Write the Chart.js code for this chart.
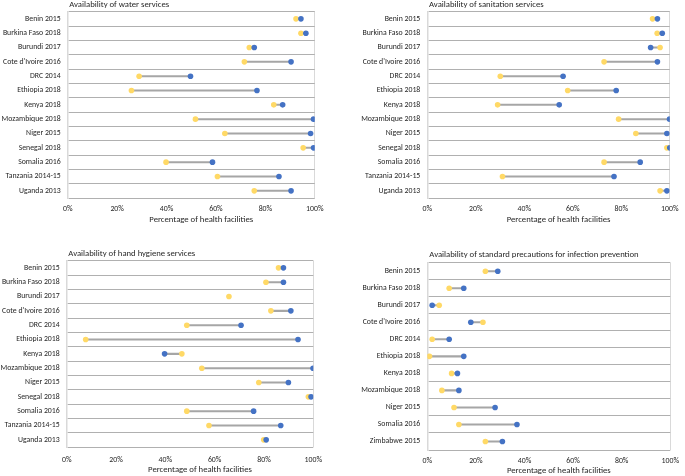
<!DOCTYPE html>
<html>
<head>
<meta charset="utf-8">
<script src="https://cdn.jsdelivr.net/npm/chart.js@4/dist/chart.umd.min.js"></script>
<style>
  html, body { margin: 0; padding: 0; background: #fff; }
  body { width: 685px; height: 476px; position: relative; overflow: hidden; }
  .panel { position: absolute; }
</style>
</head>
<body>
<div class="panel" style="left:0;top:0;width:330px;height:232px"><canvas id="c1"></canvas></div>
<div class="panel" style="left:340px;top:0;width:345px;height:232px"><canvas id="c2"></canvas></div>
<div class="panel" style="left:0;top:240px;width:330px;height:236px"><canvas id="c3"></canvas></div>
<div class="panel" style="left:340px;top:240px;width:345px;height:236px"><canvas id="c4"></canvas></div>
<script>
// ---- Data (percent of health facilities) ----
const countries13 = ["Benin 2015","Burkina Faso 2018","Burundi 2017","Cote d'Ivoire 2016","DRC 2014","Ethiopia 2018","Kenya 2018","Mozambique 2018","Niger 2015","Senegal 2018","Somalia 2016","Tanzania 2014-15","Uganda 2013"];
const countriesSP = ["Benin 2015","Burkina Faso 2018","Burundi 2017","Cote d'Ivoire 2016","DRC 2014","Ethiopia 2018","Kenya 2018","Mozambique 2018","Niger 2015","Somalia 2016","Zimbabwe 2015"];

const waterYellow = [92.4, 94.4, 73.5, 71.5, 28.9, 25.8, 83.4, 51.7, 63.6, 95.3, 39.8, 60.6, 75.5];
const waterBlue   = [94.4, 96.4, 75.5, 90.4, 49.7, 76.6, 87.0, 99.5, 98.3, 99.5, 58.6, 85.5, 90.4];

const sanYellow = [92.9, 94.8, 96.0, 72.9, 30.1, 57.9, 29.0, 78.9, 86.0, 98.8, 72.9, 31.0, 96.0];
const sanBlue   = [94.9, 96.9, 92.1, 94.9, 56.0, 77.9, 54.4, 99.9, 98.8, 100.0, 87.8, 77.0, 98.8];

const handYellow = [85.9, 80.8, 65.8, 82.8, 48.7, 7.7, 46.7, 54.8, 77.9, 98.0, 48.7, 57.7, 79.9];
const handBlue   = [87.9, 87.9, null, 90.9, 70.7, 93.8, 39.7, 99.9, 89.9, 99.1, 75.8, 86.8, 80.9];

const spYellow = [23.9, 9.0, 4.9, 22.9, 2.0, 0.9, 10.0, 6.0, 11.0, 13.0, 23.9];
const spBlue   = [29.0, 15.0, 2.0, 17.9, 9.0, 15.0, 12.4, 13.0, 27.9, 36.9, 30.9];

const xTicks = [0, 20, 40, 60, 80, 100];

const titles = ["Availability of water services","Availability of sanitation services","Availability of hand hygiene services","Availability of standard precautions for infection prevention"];
const axisTitle = "Percentage of health facilities";

const FONT = "Carlito, Calibri, Lato, sans-serif";
const TEXT = '#262626';
const SMALL = 7.8;
const BIG = 8.7;

// Panel title (top-left of plot area) and x-axis title (slightly right of centre, as in the original)
const panelText = {
  id: 'panelText',
  afterDraw(chart, args, opts) {
    const ctx = chart.ctx, a = chart.chartArea;
    ctx.save();
    ctx.font = opts.size + 'px ' + FONT;
    ctx.fillStyle = TEXT;
    ctx.textBaseline = 'middle';
    ctx.textAlign = 'left';
    ctx.fillText(opts.title, a.left + opts.dx, a.top - opts.dy);
    ctx.textAlign = 'center';
    ctx.fillText(opts.axisTitle, (a.left + a.right) / 2 + 10, a.bottom + opts.ay);
    ctx.restore();
  }
};

function makeChart(id, labels, yellow, blue, title, L) {
  const ranges = labels.map((_, i) => (yellow[i] == null || blue[i] == null) ? null : [Math.min(yellow[i], blue[i]), Math.max(yellow[i], blue[i])]);
  new Chart(document.getElementById(id), {
    type: 'bar',
    plugins: [panelText],
    data: {
      labels: labels,
      datasets: [
        { type: 'bar', data: ranges, backgroundColor: '#a6a6a6', barThickness: 1.4, order: 3, indexAxis: 'y' },
        { type: 'line', data: yellow, showLine: false, pointRadius: 2.8, pointBackgroundColor: '#FFD966', pointBorderColor: '#FFD966', pointBorderWidth: 0, order: 2, indexAxis: 'y' },
        { type: 'line', data: blue, showLine: false, pointRadius: 2.8, pointBackgroundColor: '#4472C4', pointBorderColor: '#4472C4', pointBorderWidth: 0, order: 1, indexAxis: 'y' }
      ]
    },
    options: {
      indexAxis: 'y',
      animation: false,
      responsive: true,
      maintainAspectRatio: false,
      layout: { padding: { top: L.top, right: L.right, left: 0, bottom: 0 } },
      plugins: {
        legend: { display: false },
        tooltip: { enabled: false },
        panelText: { title: title, axisTitle: axisTitle, size: BIG, dx: L.tdx, dy: L.tdy, ay: L.ay }
      },
      scales: {
        x: {
          type: 'linear', min: 0, max: 100,
          afterBuildTicks: (s) => { s.ticks = xTicks.map(v => ({ value: v })); },
          afterFit: (s) => { s.height = L.xh; },
          ticks: { callback: v => v + '%', font: { family: FONT, size: SMALL }, color: TEXT, padding: L.tp, maxRotation: 0 },
          grid: { drawTicks: false, color: (c) => (c.tick && (c.tick.value === 100)) ? '#d9d9d9' : 'rgba(0,0,0,0)', lineWidth: 1 },
          border: { display: false },
          title: { display: false }
        },
        y: {
          type: 'category',
          offset: true,
          afterFit: (s) => { s.width = L.yw; },
          ticks: { font: { family: FONT, size: SMALL }, color: TEXT, padding: 7, autoSkip: false },
          grid: { offset: true, drawTicks: false, color: '#b0b0b0', lineWidth: 1 },
          border: { display: true, color: '#d9d9d9', width: 1.5 }
        }
      }
    }
  });
}

makeChart('c1', countries13, waterYellow, waterBlue, titles[0], { top: 10.5, right: 12, yw: 67.7, xh: 34, tp: 6.5, ay: 22, tdx: 1.5, tdy: 6.5 });
makeChart('c2', countries13, sanYellow, sanBlue, titles[1], { top: 10.5, right: 8.3, yw: 87.3, xh: 34, tp: 6.5, ay: 22, tdx: 1.7, tdy: 6.5 });
makeChart('c3', countries13, handYellow, handBlue, titles[2], { top: 20.7, right: 15, yw: 66.7, xh: 29, tp: 8, ay: 23, tdx: 1.6, tdy: 6.7 });
makeChart('c4', countriesSP, spYellow, spBlue, titles[3], { top: 22.7, right: 8.3, yw: 87.3, xh: 26, tp: 6, ay: 20.7, tdx: 2, tdy: 7.7 });
</script>
</body>
</html>
